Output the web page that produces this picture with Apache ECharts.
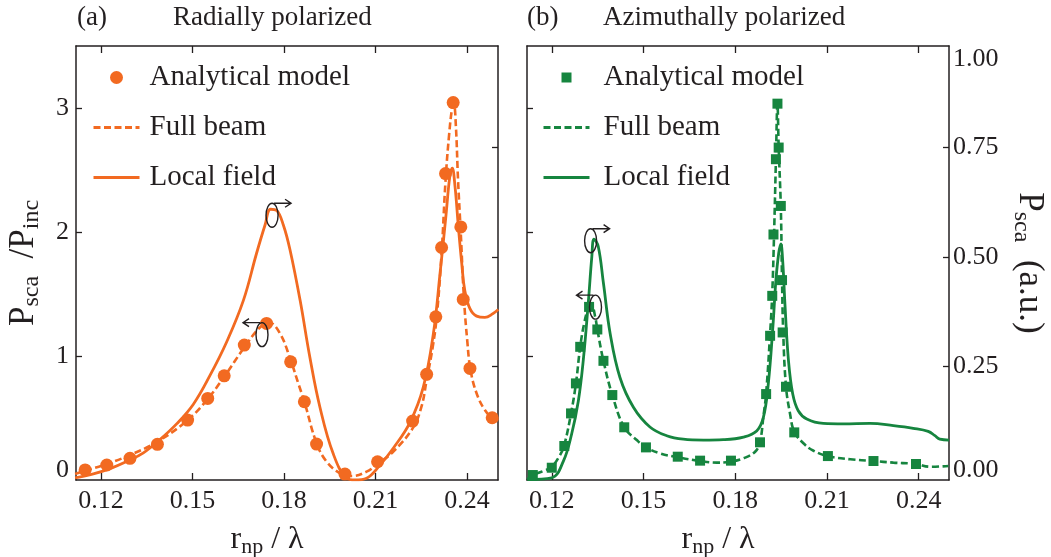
<!DOCTYPE html>
<html><head><meta charset="utf-8">
<script src="https://cdn.jsdelivr.net/npm/echarts@6/dist/echarts.min.js"></script>
<style>html,body{margin:0;padding:0;background:#fff}#c{width:1051px;height:557px}</style>
</head><body><div id="c"></div>
<script>
// ---------- tick labels ----------
const xTicks = [0.12, 0.15, 0.18, 0.21, 0.24];
const leftLabelTicks = [0, 1, 2, 3];
const leftTickMarks = [1, 2, 3];
const rightLabelTicks = [0, 0.25, 0.5, 0.75];
const rightTickMarks = [0.25, 0.5, 0.75];
const rightTopLabel = [1];

// ---------- (a) Radially polarized ----------
const radModelX = [0.1148,0.1219,0.1295,0.1385,0.1484,0.1550,0.1604,0.1670,0.1743,0.1822,0.1867,0.1907,0.2000,0.2107,0.2222,0.2268,0.2298,0.2317,0.2330,0.2355,0.2380,0.2388,0.2410,0.2483];
const radModelY = [0.081,0.121,0.175,0.288,0.483,0.658,0.840,1.088,1.263,0.953,0.631,0.290,0.048,0.147,0.475,0.852,1.316,1.875,2.471,3.044,2.041,1.456,0.900,0.502];

const radFullX = [0.1115,0.1148,0.1219,0.1295,0.1385,0.1484,0.1550,0.1604,0.1670,0.1721,0.1752,0.1787,0.1822,0.1847,0.1867,0.1907,0.1940,0.1984,0.2022,0.2071,0.2107,0.2158,0.2222,0.2251,0.2268,0.2288,0.2301,0.2317,0.2330,0.2342,0.2352,0.2357,0.2364,0.2371,0.2380,0.2390,0.2401,0.2412,0.2432,0.2459,0.2483,0.2503];
const radFullY = [0.048,0.075,0.129,0.201,0.309,0.483,0.653,0.833,1.069,1.230,1.268,1.182,0.967,0.779,0.631,0.296,0.148,0.054,0.032,0.067,0.129,0.228,0.416,0.591,0.806,1.074,1.316,1.827,2.417,2.794,3.008,3.035,2.847,2.417,1.988,1.477,1.128,0.886,0.698,0.564,0.502,0.483];

const radLocalX = [0.1115,0.1175,0.1230,0.1284,0.1339,0.1393,0.1448,0.1503,0.1557,0.1612,0.1667,0.1710,0.1738,0.1756,0.1776,0.1798,0.1820,0.1853,0.1885,0.1918,0.1962,0.2006,0.2033,0.2071,0.2115,0.2159,0.2213,0.2257,0.2290,0.2312,0.2331,0.2344,0.2352,0.2361,0.2372,0.2383,0.2393,0.2410,0.2432,0.2459,0.2486,0.2503];
const radLocalY = [-0.004,0.005,0.017,0.033,0.053,0.083,0.119,0.164,0.229,0.306,0.401,0.508,0.573,0.609,0.606,0.573,0.516,0.401,0.271,0.157,0.050,-0.005,-0.009,-0.005,0.025,0.064,0.122,0.203,0.325,0.463,0.592,0.684,0.703,0.661,0.569,0.486,0.424,0.382,0.365,0.362,0.371,0.380];

// ---------- (b) Azimuthally polarized ----------
const aziModelX = [0.1138,0.1200,0.1241,0.1263,0.1279,0.1293,0.1322,0.1349,0.1369,0.1398,0.1437,0.1508,0.1612,0.1685,0.1786,0.1881,0.1901,0.1914,0.1921,0.1925,0.1933,0.1938,0.1942,0.1949,0.1953,0.1955,0.1966,0.1993,0.2103,0.2252,0.2391];
const aziModelY = [0.040,0.099,0.274,0.537,0.779,1.074,1.396,1.214,0.961,0.685,0.425,0.263,0.188,0.156,0.156,0.304,0.693,1.163,1.485,1.980,2.587,3.035,2.681,2.210,1.612,1.190,0.752,0.384,0.193,0.153,0.129];

const aziFullX = [0.1120,0.1138,0.1173,0.1200,0.1227,0.1241,0.1263,0.1279,0.1293,0.1306,0.1320,0.1331,0.1342,0.1349,0.1369,0.1398,0.1437,0.1478,0.1508,0.1554,0.1612,0.1685,0.1740,0.1786,0.1827,0.1865,0.1881,0.1892,0.1901,0.1914,0.1921,0.1927,0.1933,0.1938,0.1942,0.1949,0.1953,0.1957,0.1966,0.1979,0.1993,0.2023,0.2056,0.2103,0.2176,0.2252,0.2317,0.2391,0.2437,0.2497];
const aziFullY = [0.005,0.040,0.073,0.107,0.201,0.282,0.537,0.779,1.074,1.263,1.383,1.397,1.316,1.214,0.961,0.685,0.425,0.322,0.263,0.215,0.183,0.153,0.140,0.148,0.175,0.228,0.309,0.510,0.698,1.182,1.504,1.988,2.579,3.035,2.686,2.202,1.612,1.182,0.752,0.537,0.389,0.296,0.236,0.193,0.167,0.153,0.140,0.129,0.107,0.113];

const aziLocalX = [0.1120,0.1200,0.1238,0.1265,0.1287,0.1303,0.1320,0.1331,0.1338,0.1352,0.1369,0.1391,0.1423,0.1467,0.1521,0.1576,0.1630,0.1696,0.1761,0.1827,0.1870,0.1892,0.1908,0.1923,0.1933,0.1942,0.1949,0.1955,0.1963,0.1974,0.1988,0.2006,0.2034,0.2088,0.2154,0.2241,0.2317,0.2382,0.2431,0.2453,0.2469,0.2499];
const aziLocalY = [-0.008,-0.004,0.034,0.096,0.172,0.264,0.401,0.501,0.541,0.524,0.440,0.325,0.225,0.157,0.112,0.092,0.084,0.082,0.083,0.089,0.103,0.134,0.210,0.340,0.447,0.508,0.530,0.493,0.386,0.264,0.187,0.149,0.130,0.120,0.119,0.120,0.115,0.109,0.102,0.092,0.084,0.082];

// rotation-arrow annotations: [x, y (left axis), direction]
const arrowsA = [[0.1761, 2.135, 1], [0.1728, 1.172, -1]];
const arrowsB = [[0.1327, 1.930, 1], [0.1343, 1.394, -1]];

// ---------- styling ----------
const FONT = '"Liberation Serif","DejaVu Serif","Times New Roman",serif';
const INK = '#231f20';
const ORANGE = '#f26a21';
const GREEN = '#16853f';
const zip = (xs, ys) => xs.map((x, i) => [x, ys[i]]);

const nameRich = {
  m: {fontFamily: FONT, fontSize: 32, color: INK, lineHeight: 36},
  s: {fontFamily: FONT, fontSize: 22, color: INK, lineHeight: 12, verticalAlign: 'bottom'}
};
const nameRichV = {
  m: {fontFamily: FONT, fontSize: 35, color: INK, lineHeight: 40},
  s: {fontFamily: FONT, fontSize: 24, color: INK, lineHeight: 13, verticalAlign: 'bottom'}
};
const lblBase = {fontFamily: FONT, fontSize: 26, color: INK};

function xAx(grid, pos, min, max, showLbl) {
  return {
    type: 'value', gridIndex: grid, position: pos, min: min, max: max,
    axisLine: {show: true, onZero: false, lineStyle: {color: INK, width: 1.5}},
    axisTick: {show: true, inside: true, length: 7, customValues: xTicks, lineStyle: {color: INK, width: 1.3}},
    axisLabel: Object.assign({show: showLbl, customValues: xTicks, margin: 8,
      formatter: v => v.toFixed(2)}, lblBase),
    splitLine: {show: false},
    name: showLbl ? '{m|r}{s|np}{m| / λ}' : '',
    nameLocation: 'middle', nameGap: 42,
    nameTextStyle: {rich: nameRich, padding: [0, 40, 0, 0]}
  };
}
const RMIN = -0.0091, RMAX = 0.9817;
function yLeft(grid, showLbl) {
  return {
    type: 'value', gridIndex: grid, position: 'left', min: 0, max: 3.5,
    axisLine: {show: true, onZero: false, lineStyle: {color: INK, width: 1.5}},
    axisTick: {show: true, inside: true, length: 6, customValues: leftTickMarks, lineStyle: {color: INK, width: 1.3}},
    axisLabel: Object.assign({show: showLbl, customValues: leftLabelTicks, margin: 7,
      formatter: v => v === 0 ? '{z|0}' : String(v),
      rich: {z: Object.assign({padding: [0, 0, 20, 0]}, lblBase)}}, lblBase),
    splitLine: {show: false},
    name: showLbl ? '{m|P}{s|sca}{m|  /P}{s|inc}' : '',
    nameLocation: 'middle', nameRotate: 90, nameGap: 32,
    nameTextStyle: {rich: nameRichV}
  };
}
function yRight(grid, showLbl) {
  return {
    type: 'value', gridIndex: grid, position: 'right', min: RMIN, max: RMAX,
    axisLine: {show: true, onZero: false, lineStyle: {color: INK, width: 1.5}},
    axisTick: {show: true, inside: true, length: 6, customValues: rightTickMarks, lineStyle: {color: INK, width: 1.3}},
    axisLabel: Object.assign({show: showLbl, customValues: rightLabelTicks, margin: 4,
      formatter: v => v === 0 ? '{z|0.00}' : v.toFixed(2),
      rich: {z: Object.assign({padding: [0, 0, 12, 0]}, lblBase)}}, lblBase),
    splitLine: {show: false},
    name: showLbl ? '{m|P}{s|sca}{m|  (a.u.)}' : '',
    nameLocation: 'middle', nameRotate: -90, nameGap: 60,
    nameTextStyle: {rich: nameRichV}
  };
}

function renderArrow(params, api) {
  const c = api.coord([api.value(0), api.value(1)]);
  const dir = api.value(2);
  const rx = 6, ry = 12;
  const cx = c[0], cy = c[1];
  const ty = cy - ry;
  const x0 = cx + dir * 2, x1 = cx + dir * 19;
  const d = 'M' + cx + ' ' + (cy - ry) + ' A' + rx + ' ' + ry + ' 0 1 0 ' + cx + ' ' + (cy + ry) +
            ' A' + rx + ' ' + ry + ' 0 1 0 ' + cx + ' ' + (cy - ry) +
            ' M' + x0 + ' ' + ty + ' L' + x1 + ' ' + ty +
            ' M' + (x1 - dir * 6) + ' ' + (ty - 4) + ' L' + x1 + ' ' + ty + ' L' + (x1 - dir * 6) + ' ' + (ty + 4);
  return {type: 'path', shape: {pathData: d}, style: {fill: null, stroke: INK, lineWidth: 1.4}};
}

function legendFor(prefix, left, itemH, textPad, modelIcon) {
  const hideSym = {opacity: 0};
  const first = {name: prefix + '|Analytical model'};
  if (modelIcon) first.icon = modelIcon;
  return {
    orient: 'vertical', left: left, top: 58, itemWidth: 46, itemHeight: itemH, itemGap: 21,
    data: [first,
           {name: prefix + '|Full beam', itemStyle: hideSym, lineStyle: {width: 2.8}},
           {name: prefix + '|Local field', itemStyle: hideSym, lineStyle: {width: 3}}],
    formatter: n => n.split('|')[1],
    textStyle: {fontFamily: FONT, fontSize: 29, color: INK, padding: [0, 0, 0, textPad]},
    selectedMode: false
  };
}

const titleStyle = {fontFamily: FONT, fontSize: 27, fontWeight: 'normal', color: INK};
const lineCommon = {type: 'line', showSymbol: false, symbol: 'none', smooth: 0.4, z: 2};

const option = {
  animation: false,
  backgroundColor: '#ffffff',
  title: [
    {text: '(a)', left: 72, top: -1, textStyle: titleStyle},
    {text: 'Radially polarized', left: 168, top: -1, textStyle: titleStyle},
    {text: '(b)', left: 522, top: -1, textStyle: titleStyle},
    {text: 'Azimuthally polarized', left: 598, top: -1, textStyle: titleStyle}
  ],
  legend: [legendFor('a', 87, 13, 5, null), legendFor('b', 537, 10, 9, 'path://M0 0H10V10H0Z')],
  grid: [
    {left: 76, top: 46, width: 422, height: 434, outerBoundsMode: 'none', containLabel: false},
    {left: 527, top: 46, width: 422, height: 434, outerBoundsMode: 'none', containLabel: false}
  ],
  xAxis: [
    xAx(0, 'bottom', 0.1118, 0.2502, true),
    xAx(0, 'top', 0.1118, 0.2502, false),
    xAx(1, 'bottom', 0.1119, 0.2499, true),
    xAx(1, 'top', 0.1119, 0.2499, false)
  ],
  yAxis: [
    yLeft(0, true),
    yRight(0, false),
    yLeft(1, false),
    yRight(1, true),
    {
      type: 'value', gridIndex: 1, position: 'right', min: 0, max: 1,
      axisLine: {show: false}, axisTick: {show: false}, splitLine: {show: false},
      axisLabel: Object.assign({show: true, customValues: rightTopLabel, margin: 4, verticalAlign: 'top',
        formatter: v => v.toFixed(2)}, lblBase)
    }
  ],
  series: [
    Object.assign({name: 'a|Full beam', xAxisIndex: 0, yAxisIndex: 0, data: zip(radFullX, radFullY),
     lineStyle: {color: ORANGE, width: 2.6, type: [7, 3.5]}, itemStyle: {color: ORANGE}}, lineCommon),
    Object.assign({name: 'a|Local field', xAxisIndex: 0, yAxisIndex: 1, data: zip(radLocalX, radLocalY),
     lineStyle: {color: ORANGE, width: 2.8}, itemStyle: {color: ORANGE}}, lineCommon),
    {name: 'a|Analytical model', type: 'scatter', xAxisIndex: 0, yAxisIndex: 0, data: zip(radModelX, radModelY),
     symbol: 'circle', symbolSize: 13, z: 3, itemStyle: {color: ORANGE, opacity: 1}},
    Object.assign({name: 'b|Full beam', xAxisIndex: 2, yAxisIndex: 2, data: zip(aziFullX, aziFullY),
     lineStyle: {color: GREEN, width: 2.6, type: [7, 3.5]}, itemStyle: {color: GREEN}}, lineCommon),
    Object.assign({name: 'b|Local field', xAxisIndex: 2, yAxisIndex: 3, data: zip(aziLocalX, aziLocalY),
     lineStyle: {color: GREEN, width: 2.8}, itemStyle: {color: GREEN}}, lineCommon),
    {name: 'b|Analytical model', type: 'scatter', xAxisIndex: 2, yAxisIndex: 2, data: zip(aziModelX, aziModelY),
     symbol: 'rect', symbolSize: 10, z: 3, itemStyle: {color: GREEN, opacity: 1}},
    {type: 'custom', xAxisIndex: 0, yAxisIndex: 0, data: arrowsA, renderItem: renderArrow, silent: true, z: 5, clip: false},
    {type: 'custom', xAxisIndex: 2, yAxisIndex: 2, data: arrowsB, renderItem: renderArrow, silent: true, z: 5, clip: false}
  ]
};
const chart = echarts.init(document.getElementById('c'), null, {renderer: 'canvas'});
chart.setOption(option);
</script>
</body></html>
